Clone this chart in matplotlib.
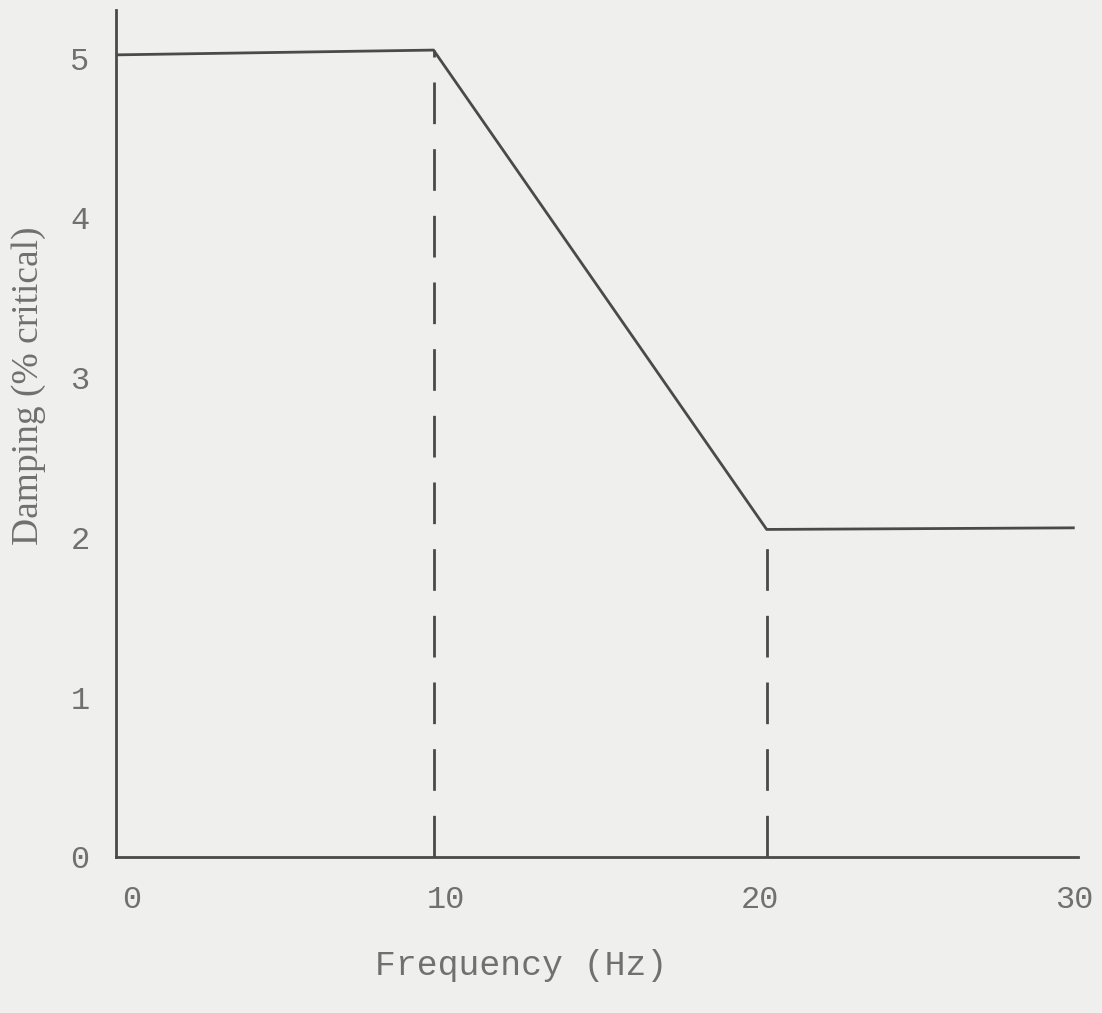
import matplotlib
matplotlib.use("Agg")
import matplotlib.pyplot as plt

# damping curve
freq = [-0.5, 9.6, 20.2, 30.0]
damping = [5.02, 5.05, 2.05, 2.06]

# break points marked with dashed drop lines
knee_freq = [9.6, 20.2]
knee_damp = [5.05, 2.05]

x_ticks = [0, 10, 20, 30]
y_ticks = [0, 1, 2, 3, 4, 5]

paper = "#efefed"
ink = "#4a4a4a"
text_col = "#707070"
mono = ["Liberation Mono", "DejaVu Sans Mono"]

fig = plt.figure(figsize=(11.02, 10.13), dpi=100, facecolor=paper)
ax = fig.add_axes([0.1053, 0.154, 0.8728, 0.836])
ax.set_facecolor(paper)

ax.plot(freq, damping, color=ink, lw=2.0, solid_capstyle="butt")
for xk, yk in zip(knee_freq, knee_damp):
    ax.plot([xk, xk], [0, yk], color=ink, lw=2.0, dashes=(15, 9))

ax.set_xlim(-0.5, 30.1)
ax.set_ylim(0, 5.3)

for side in ["top", "right"]:
    ax.spines[side].set_visible(False)
for side in ["left", "bottom"]:
    ax.spines[side].set_color(ink)
    ax.spines[side].set_linewidth(2.0)

ax.set_xticks(x_ticks)
ax.set_yticks(y_ticks)
ax.set_xticklabels([str(v) for v in x_ticks], family=mono, fontsize=23, color=text_col)
ax.set_yticklabels([str(v) for v in y_ticks], family=mono, fontsize=23, color=text_col)
ax.tick_params(axis="x", length=0, pad=20)
ax.tick_params(axis="y", length=0, pad=19)

fig.text(521 / 1102, 1 - 965 / 1013, "Frequency (Hz)", family=mono, fontsize=25,
         color=text_col, ha="center", va="center")
fig.text(29 / 1102, 1 - 386 / 1013, "Damping (% critical)",
         family=["Liberation Serif", "DejaVu Serif"], fontsize=27,
         color=text_col, rotation=90, ha="center", va="center")

fig.savefig("out.png", dpi=100, facecolor=paper)
